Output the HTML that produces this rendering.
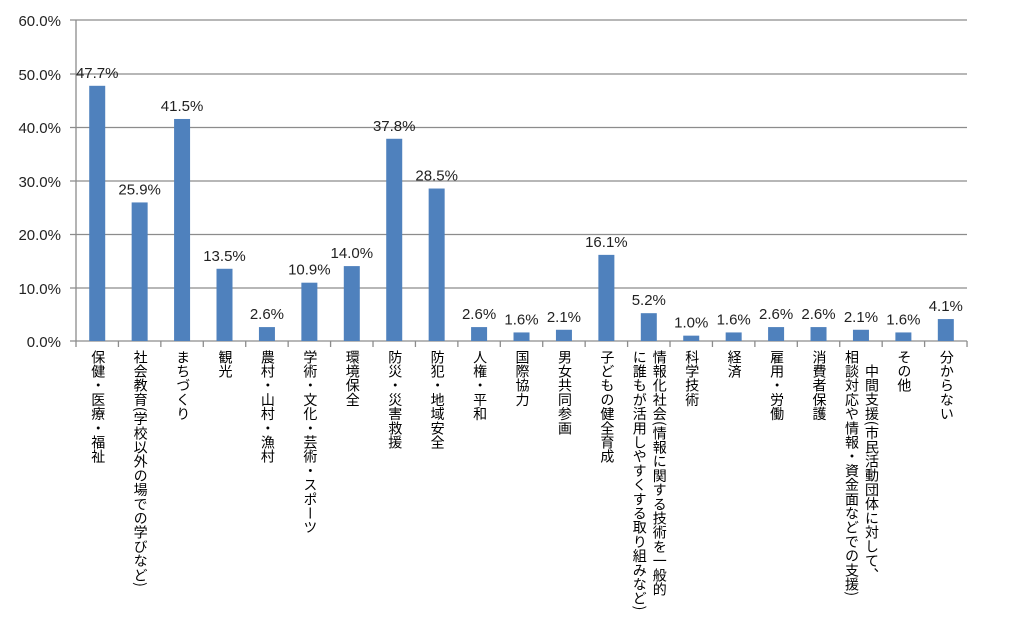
<!DOCTYPE html>
<html><head><meta charset="utf-8"><style>
body{margin:0;background:#fff;width:1024px;height:638px;overflow:hidden;position:relative;font-family:"Liberation Sans","Noto Sans CJK JP",sans-serif;}
.lab{position:absolute;top:350px;writing-mode:vertical-rl;font-family:"Noto Sans CJK JP",sans-serif;font-size:14px;line-height:19px;color:#000;white-space:nowrap;letter-spacing:0.2px;}
</style></head><body>
<svg width="1024" height="638" style="position:absolute;left:0;top:0" font-family="Liberation Sans, sans-serif">
<g stroke="#8c8c8c" stroke-width="1.3">
<line x1="70" y1="20" x2="967" y2="20"/>
<line x1="70" y1="74" x2="967" y2="74"/>
<line x1="70" y1="127.5" x2="967" y2="127.5"/>
<line x1="70" y1="181" x2="967" y2="181"/>
<line x1="70" y1="234.5" x2="967" y2="234.5"/>
<line x1="70" y1="288" x2="967" y2="288"/>
<line x1="70" y1="341" x2="967" y2="341"/>
<line x1="76" y1="20" x2="76" y2="341"/>
</g>
<g id="ticks" stroke="#8c8c8c" stroke-width="1.3"></g>
<g font-size="15" fill="#222" text-anchor="end">
<text x="61" y="26">60.0%</text>
<text x="61" y="80">50.0%</text>
<text x="61" y="133">40.0%</text>
<text x="61" y="187">30.0%</text>
<text x="61" y="240">20.0%</text>
<text x="61" y="294">10.0%</text>
<text x="61" y="347">0.0%</text>
</g>
<g id="bars"></g>
</svg>
<div id="labs"></div>
<script>
var v=[47.7,25.9,41.5,13.5,2.6,10.9,14.0,37.8,28.5,2.6,1.6,2.1,16.1,5.2,1.0,1.6,2.6,2.6,2.1,1.6,4.1];
var L=[["保健・医療・福祉"],["社会教育(学校以外の場での学びなど)"],["まちづくり"],["観光"],["農村・山村・漁村"],["学術・文化・芸術・スポーツ"],["環境保全"],["防災・災害救援"],["防犯・地域安全"],["人権・平和"],["国際協力"],["男女共同参画"],["子どもの健全育成"],["情報化社会(情報に関する技術を一般的","に誰もが活用しやすくする取り組みなど)"],["科学技術"],["経済"],["雇用・労働"],["消費者保護"],["中間支援(市民活動団体に対して、","相談対応や情報・資金面などでの支援)"],["その他"],["分からない"]];
var sw=42.43,x0=76,s="",t="",h="";
for(var i=0;i<=21;i++){var x=x0+i*sw;t+='<line x1="'+x+'" y1="341" x2="'+x+'" y2="347"/>';}
for(var i=0;i<21;i++){var c=x0+(i+0.5)*sw;var y=341-v[i]*5.35;
s+='<rect x="'+(c-8)+'" y="'+y+'" width="16" height="'+(341-y)+'" fill="#4f81bd"/>';
s+='<text x="'+c+'" y="'+(y-8)+'" font-size="15" fill="#222" text-anchor="middle">'+v[i].toFixed(1)+'%</text>';
var ls=L[i];
if(ls.length==1){h+='<div class="lab" style="left:'+(c-9)+'px">'+ls[0]+'</div>';}
else{var off=(i==18)?14:0;
h+='<div class="lab" style="left:'+(c+1)+'px;top:'+(350+off)+'px">'+ls[0]+'</div>';
h+='<div class="lab" style="left:'+(c-19)+'px">'+ls[1]+'</div>';}
}
document.getElementById('ticks').innerHTML=t;
document.getElementById('bars').innerHTML=s;
document.getElementById('labs').innerHTML=h;
</script>
</body></html>
